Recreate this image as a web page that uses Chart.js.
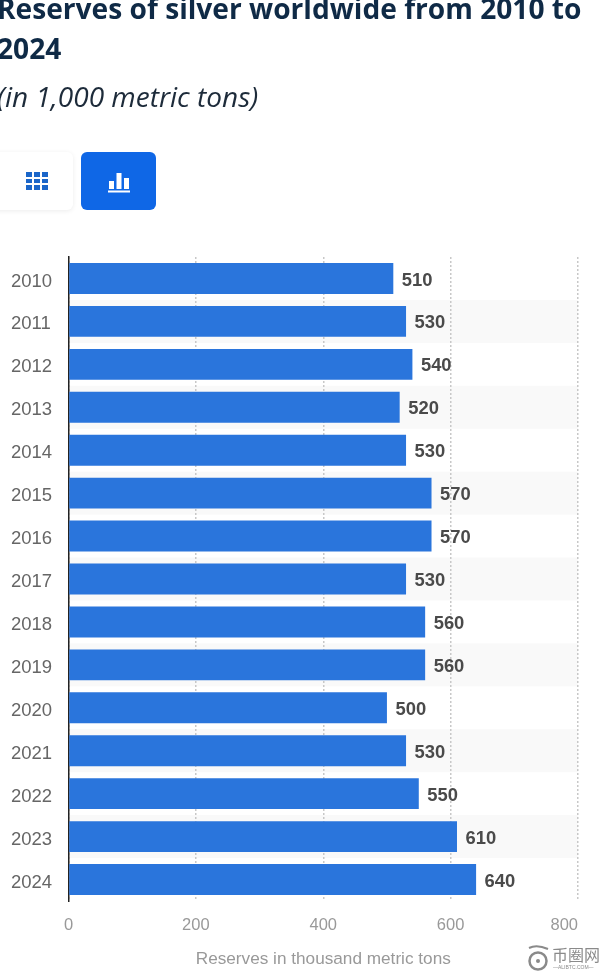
<!DOCTYPE html>
<html lang="en">
<head>
  <meta charset="UTF-8" />
  <title>Reserves of silver worldwide from 2010 to 2024</title>
  <script src="https://cdn.jsdelivr.net/npm/chart.js"></script>
  <style>
    html, body { margin: 0; padding: 0; background: #fff; width: 600px; height: 973px; overflow: hidden; }
    #chartBox { position: absolute; left: 0; top: 0; width: 600px; height: 973px; }
    h1, h2 { position: absolute; margin: 0; font-family: "Open Sans", sans-serif; white-space: nowrap; }
    h1 { left: -3px; top: -12px; font-size: 28.15px; line-height: 40px; font-weight: 700; color: #0f2a46; }
    h2 { left: -3px; top: 78px; font-size: 28px; line-height: 36px; font-weight: 400; font-style: italic; color: #1d2b3a; }
    .btn { position: absolute; top: 152px; height: 58px; border-radius: 6px; }
    #btnTable { left: -12px; width: 85px; background: #fff; box-shadow: 0 1px 5px rgba(0,0,0,.08); }
    #btnChart { left: 81px; width: 75px; background: #0f67e6; }
    .btn svg { position: absolute; top: 19px; }
    #mark { position: absolute; left: 527px; top: 944px; width: 73px; height: 29px; color: #8a8a8a; }
    #mark svg { position: absolute; left: 0; top: 0; }
    #markCn { position: absolute; left: 25px; top: 0; font: 16px "Noto Sans CJK SC", sans-serif; line-height: 20px; white-space: nowrap; }
    #markEn { position: absolute; left: 26px; top: 20px; font: 5px "Liberation Sans", sans-serif; line-height: 7px; white-space: nowrap; }
  </style>
</head>
<body>
  <div id="chartBox"><canvas id="chart"></canvas></div>

  <h1>Reserves of silver worldwide from 2010 to<br>2024</h1>
  <h2>(in 1,000 metric tons)</h2>

  <div class="btn" id="btnTable">
    <svg style="left:38px" width="22" height="20" viewBox="0 0 22 20" fill="#1b66c9">
      <rect x="0" y="1" width="6" height="5"/><rect x="8" y="1" width="6" height="5"/><rect x="16" y="1" width="6" height="5"/>
      <rect x="0" y="8" width="6" height="4"/><rect x="8" y="8" width="6" height="4"/><rect x="16" y="8" width="6" height="4"/>
      <rect x="0" y="14" width="6" height="5"/><rect x="8" y="14" width="6" height="5"/><rect x="16" y="14" width="6" height="5"/>
    </svg>
  </div>
  <div class="btn" id="btnChart">
    <svg style="left:27px" width="22" height="22" viewBox="0 0 22 22" fill="#fff">
      <rect x="1" y="10" width="5" height="8"/><rect x="8.5" y="2" width="5" height="16"/><rect x="16" y="7" width="5" height="11"/>
      <rect x="0" y="19.5" width="22" height="2"/>
    </svg>
  </div>

  <div id="mark">
    <svg width="24" height="29" viewBox="0 0 24 29" fill="none" stroke="#8a8a8a">
      <circle cx="11" cy="17" r="8.5" stroke-width="2.5"/>
      <circle cx="11" cy="17" r="2" fill="#8a8a8a" stroke="none"/>
      <path d="M2 4 C8 1 14 2 21 5" stroke-width="2"/>
    </svg>
    <div id="markCn">币圈网</div>
    <div id="markEn">—ALIBTC.COM—</div>
  </div>

  <script>
    // Data
    const years = ['2010', '2011', '2012', '2013', '2014', '2015', '2016', '2017', '2018', '2019', '2020', '2021', '2022', '2023', '2024'];
    const reserves = [510, 530, 540, 520, 530, 570, 570, 530, 560, 560, 500, 530, 550, 610, 640];
    const axisTitle = 'Reserves in thousand metric tons';

    const tickFont = '"Liberation Sans", Arial, sans-serif';

    // Alternating row backgrounds, plus small nudges to the axis labels
    const rowStripes = {
      id: 'rowStripes',
      beforeDraw(chart) {
        const { ctx, chartArea, scales } = chart;
        const band = scales.y.getPixelForValue(1) - scales.y.getPixelForValue(0);
        ctx.save();
        ctx.fillStyle = '#f9f9f9';
        years.forEach((year, i) => {
          if (i % 2 === 1) {
            ctx.fillRect(chartArea.left, scales.y.getPixelForValue(i) - band / 2, chartArea.width, band);
          }
        });
        ctx.restore();

        // last x label ends at the plot edge
        const xItems = scales.x.getLabelItems();
        xItems[xItems.length - 1].options.textAlign = 'right';

        // year labels sit a little below the bar centre
        scales.y.getLabelItems().forEach(item => {
          if (!item.nudged) {
            item.options.translation[1] += 3;
            item.nudged = true;
          }
        });
      }
    };

    // Value labels at the end of each bar
    const valueLabels = {
      id: 'valueLabels',
      afterDatasetsDraw(chart) {
        const { ctx } = chart;
        ctx.save();
        ctx.font = 'bold 18.4px ' + tickFont;
        ctx.fillStyle = '#4a4a4a';
        ctx.textBaseline = 'middle';
        chart.getDatasetMeta(0).data.forEach((bar, i) => {
          ctx.fillText(String(reserves[i]), bar.x + 8.5, bar.y + 2);
        });
        ctx.restore();
      }
    };

    new Chart(document.getElementById('chart'), {
      type: 'bar',
      data: {
        labels: years,
        datasets: [{
          data: reserves,
          backgroundColor: '#2a75dc',
          borderWidth: 0,
          categoryPercentage: 1,
          barPercentage: 0.72
        }]
      },
      options: {
        indexAxis: 'y',
        responsive: true,
        maintainAspectRatio: false,
        animation: false,
        layout: { padding: { top: 257, right: 22, bottom: 0, left: 11 } },
        plugins: { legend: { display: false }, tooltip: { enabled: false } },
        scales: {
          x: {
            min: 0,
            max: 800,
            afterFit(scale) {
              scale.height = 72;
              scale.paddingLeft = 0;
              scale.paddingRight = 0;
            },
            grid: { color: '#c8c8c8', lineWidth: 1.5, drawTicks: false },
            border: { display: false, dash: [2, 2] },
            ticks: {
              stepSize: 200,
              autoSkip: false,
              maxRotation: 0,
              padding: 15,
              color: '#999999',
              font: { family: tickFont, size: 16.5 }
            },
            title: {
              display: true,
              text: axisTitle,
              color: '#999999',
              font: { family: tickFont, size: 17.2 },
              padding: { top: 6, bottom: 3 }
            }
          },
          y: {
            afterFit(scale) { scale.width = 57.5; },
            grid: { display: false },
            border: { display: true, color: '#222222', width: 1.5 },
            ticks: {
              crossAlign: 'far',
              color: '#666666',
              font: { family: tickFont, size: 18.5 }
            }
          }
        }
      },
      plugins: [rowStripes, valueLabels]
    });
  </script>
</body>
</html>
